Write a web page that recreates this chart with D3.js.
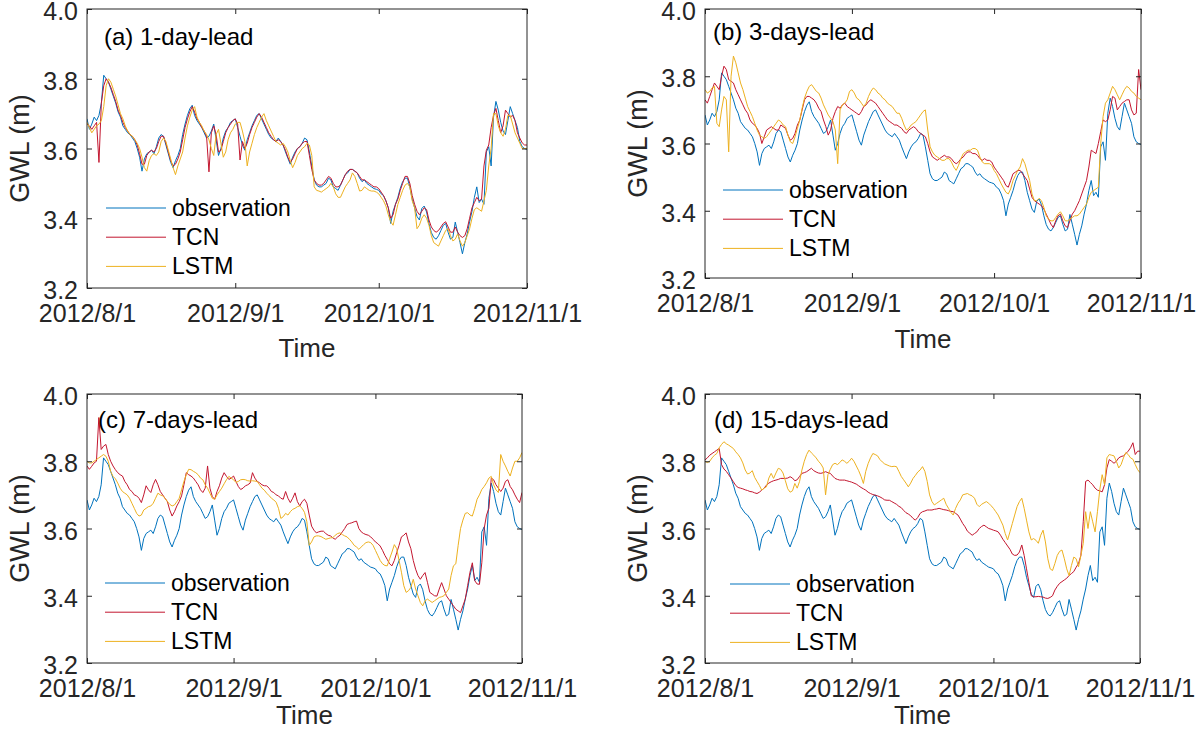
<!DOCTYPE html>
<html>
<head>
<meta charset="utf-8">
<script src="https://cdn.jsdelivr.net/npm/d3@7"></script>
<style>
  body { margin: 0; background: #fff; }
  svg { display: block; font-family: "Liberation Sans", Arial, Helvetica, sans-serif; }
</style>
</head>
<body>
<div id="chart"></div>
<script>
// time axis: half-day samples from 2012/8/1 to 2012/11/1
const startDate = new Date(2012, 7, 1);
const endDate = new Date(2012, 10, 1);
const stepHours = 12;
const monthTicks = [new Date(2012, 7, 1), new Date(2012, 8, 1), new Date(2012, 9, 1), new Date(2012, 10, 1)];
const gwlTicks = [3.2, 3.4, 3.6, 3.8, 4.0];
const seriesNames = ["observation", "TCN", "LSTM"];
const panelTitles = ["(a) 1-day-lead", "(b) 3-days-lead", "(c) 7-days-lead", "(d) 15-days-lead"];

// GWL (m)
const observation = [
  3.685,3.655,3.67,3.69,3.68,3.695,3.73,3.81,3.80,3.79,
  3.77,3.75,3.73,3.705,3.69,3.665,3.655,3.645,3.64,3.63,
  3.62,3.60,3.575,3.535,3.57,3.585,3.59,3.595,3.585,3.605,
  3.63,3.64,3.635,3.61,3.585,3.56,3.545,3.565,3.58,3.60,
  3.64,3.67,3.695,3.714,3.724,3.695,3.68,3.67,3.66,3.645,
  3.63,3.635,3.65,3.67,3.625,3.58,3.60,3.63,3.65,3.66,
  3.675,3.68,3.685,3.66,3.635,3.61,3.595,3.625,3.645,3.665,
  3.68,3.695,3.70,3.685,3.67,3.655,3.64,3.63,3.625,3.62,
  3.63,3.62,3.61,3.59,3.572,3.555,3.575,3.59,3.60,3.605,
  3.615,3.63,3.625,3.59,3.55,3.51,3.495,3.49,3.49,3.495,
  3.50,3.515,3.51,3.49,3.485,3.48,3.495,3.51,3.525,3.53,
  3.54,3.54,3.535,3.53,3.515,3.505,3.51,3.50,3.495,3.49,
  3.485,3.483,3.48,3.47,3.465,3.45,3.43,3.385,3.42,3.44,
  3.46,3.486,3.505,3.515,3.515,3.49,3.455,3.43,3.405,3.395,
  3.428,3.435,3.418,3.385,3.359,3.345,3.34,3.35,3.365,3.38,
  3.385,3.36,3.34,3.345,3.389,3.36,3.33,3.298,3.33,3.355,
  3.39,3.42,3.46,3.49,3.445,3.455,3.44,3.59,3.605,3.55,
  3.69,3.735,3.71,3.675,3.65,3.64,3.68,3.72,3.70,3.68,
  3.66,3.62,3.605,3.60,3.597
];

const tcn1 = [
  3.67,3.665,3.655,3.665,3.675,3.56,3.73,3.78,3.80,3.79,
  3.775,3.755,3.735,3.71,3.695,3.675,3.66,3.65,3.64,3.635,
  3.625,3.61,3.585,3.555,3.555,3.58,3.59,3.595,3.59,3.60,
  3.62,3.635,3.635,3.615,3.59,3.565,3.55,3.555,3.57,3.59,
  3.625,3.66,3.685,3.705,3.72,3.705,3.685,3.675,3.66,3.65,
  3.635,3.533,3.645,3.665,3.64,3.59,3.595,3.62,3.645,3.66,
  3.67,3.68,3.685,3.67,3.567,3.62,3.60,3.615,3.64,3.66,
  3.675,3.69,3.70,3.69,3.675,3.66,3.645,3.635,3.625,3.62,
  3.625,3.62,3.61,3.595,3.575,3.56,3.57,3.585,3.60,3.605,
  3.615,3.62,3.62,3.58,3.54,3.51,3.50,3.495,3.495,3.50,
  3.51,3.52,3.515,3.50,3.49,3.49,3.495,3.51,3.525,3.535,
  3.54,3.54,3.535,3.53,3.52,3.51,3.51,3.505,3.50,3.495,
  3.49,3.49,3.485,3.475,3.465,3.45,3.43,3.40,3.41,3.44,
  3.455,3.48,3.50,3.52,3.52,3.50,3.465,3.44,3.42,3.41,
  3.42,3.43,3.425,3.395,3.375,3.365,3.36,3.365,3.375,3.385,
  3.39,3.375,3.36,3.36,3.375,3.36,3.35,3.345,3.35,3.37,
  3.40,3.43,3.445,3.46,3.45,3.455,3.55,3.595,3.61,3.66,
  3.695,3.715,3.68,3.645,3.665,3.71,3.70,3.69,3.695,3.68,
  3.645,3.63,3.616,3.61,3.61
];

const lstm1 = [
  3.675,3.66,3.645,3.655,3.665,3.67,3.68,3.72,3.78,3.80,
  3.79,3.77,3.75,3.725,3.70,3.685,3.665,3.65,3.64,3.635,
  3.625,3.615,3.60,3.575,3.545,3.535,3.565,3.58,3.585,3.58,
  3.59,3.62,3.63,3.62,3.595,3.57,3.545,3.525,3.55,3.57,
  3.59,3.63,3.665,3.69,3.71,3.72,3.69,3.675,3.665,3.65,
  3.64,3.625,3.60,3.58,3.64,3.655,3.615,3.575,3.59,3.625,
  3.645,3.655,3.67,3.675,3.675,3.65,3.62,3.55,3.59,3.615,
  3.64,3.66,3.675,3.69,3.70,3.68,3.665,3.65,3.635,3.62,
  3.615,3.61,3.615,3.605,3.59,3.565,3.545,3.56,3.58,3.59,
  3.60,3.605,3.615,3.61,3.58,3.49,3.48,3.478,3.475,3.48,
  3.485,3.49,3.50,3.49,3.47,3.46,3.46,3.475,3.49,3.50,
  3.51,3.53,3.52,3.50,3.478,3.48,3.49,3.485,3.48,3.478,
  3.478,3.475,3.47,3.46,3.45,3.435,3.41,3.39,3.38,3.41,
  3.44,3.46,3.48,3.495,3.50,3.49,3.45,3.43,3.37,3.38,
  3.40,3.41,3.40,3.38,3.35,3.33,3.325,3.32,3.335,3.35,
  3.365,3.37,3.35,3.335,3.34,3.355,3.335,3.32,3.33,3.35,
  3.37,3.40,3.425,3.43,3.425,3.42,3.45,3.48,3.55,3.60,
  3.70,3.70,3.665,3.645,3.635,3.655,3.695,3.695,3.67,3.645,
  3.63,3.615,3.60,3.60,3.60
];

const tcn3 = [
  3.73,3.72,3.74,3.76,3.78,3.77,3.76,3.80,3.83,3.82,
  3.79,3.785,3.78,3.76,3.745,3.73,3.715,3.70,3.69,3.67,
  3.66,3.655,3.645,3.63,3.60,3.62,3.64,3.645,3.65,3.645,
  3.64,3.64,3.655,3.65,3.645,3.625,3.61,3.615,3.63,3.655,
  3.67,3.70,3.73,3.74,3.74,3.735,3.73,3.72,3.705,3.695,
  3.67,3.65,3.625,3.64,3.675,3.695,3.71,3.705,3.715,3.72,
  3.71,3.705,3.70,3.695,3.69,3.685,3.695,3.71,3.715,3.725,
  3.73,3.725,3.72,3.71,3.70,3.69,3.68,3.67,3.665,3.66,
  3.655,3.655,3.65,3.645,3.635,3.63,3.64,3.645,3.65,3.645,
  3.635,3.63,3.625,3.62,3.60,3.575,3.56,3.555,3.55,3.555,
  3.56,3.565,3.56,3.56,3.555,3.545,3.54,3.545,3.555,3.56,
  3.57,3.575,3.575,3.57,3.57,3.565,3.555,3.55,3.555,3.55,
  3.55,3.545,3.53,3.52,3.51,3.50,3.49,3.475,3.47,3.49,
  3.51,3.515,3.52,3.52,3.51,3.50,3.49,3.465,3.44,3.43,
  3.425,3.42,3.415,3.405,3.39,3.375,3.36,3.35,3.37,3.385,
  3.39,3.37,3.355,3.35,3.37,3.39,3.40,3.415,3.43,3.45,
  3.47,3.49,3.53,3.58,3.575,3.57,3.60,3.635,3.67,3.665,
  3.67,3.70,3.74,3.735,3.70,3.71,3.72,3.725,3.73,3.73,
  3.70,3.685,3.69,3.82,3.76
];

const lstm3 = [
  3.76,3.75,3.755,3.765,3.77,3.66,3.65,3.70,3.74,3.73,
  3.575,3.80,3.86,3.84,3.81,3.78,3.76,3.735,3.71,3.695,
  3.68,3.66,3.64,3.625,3.62,3.615,3.62,3.63,3.64,3.65,
  3.66,3.67,3.665,3.655,3.65,3.625,3.605,3.60,3.62,3.645,
  3.67,3.705,3.735,3.755,3.77,3.775,3.765,3.755,3.75,3.735,
  3.715,3.70,3.685,3.675,3.665,3.64,3.54,3.70,3.715,3.72,
  3.73,3.755,3.76,3.75,3.735,3.73,3.72,3.71,3.72,3.74,
  3.755,3.765,3.76,3.75,3.745,3.735,3.73,3.72,3.715,3.71,
  3.70,3.69,3.69,3.675,3.655,3.64,3.645,3.655,3.66,3.665,
  3.675,3.685,3.695,3.70,3.64,3.59,3.575,3.565,3.56,3.555,
  3.55,3.55,3.555,3.555,3.545,3.53,3.52,3.535,3.555,3.57,
  3.575,3.58,3.58,3.585,3.585,3.58,3.56,3.545,3.54,3.54,
  3.54,3.535,3.52,3.51,3.495,3.48,3.467,3.455,3.45,3.465,
  3.49,3.505,3.52,3.53,3.555,3.54,3.515,3.49,3.45,3.43,
  3.43,3.437,3.43,3.41,3.385,3.375,3.37,3.37,3.38,3.39,
  3.397,3.385,3.37,3.37,3.375,3.38,3.385,3.385,3.39,3.40,
  3.41,3.42,3.44,3.455,3.46,3.465,3.47,3.60,3.68,3.72,
  3.73,3.75,3.77,3.76,3.745,3.73,3.745,3.76,3.77,3.765,
  3.755,3.75,3.74,3.735,3.73
];

const tcn7 = [
  3.786,3.776,3.785,3.795,3.80,3.93,3.835,3.845,3.85,3.82,
  3.80,3.786,3.775,3.766,3.76,3.756,3.74,3.73,3.716,3.71,
  3.70,3.697,3.69,3.677,3.70,3.727,3.715,3.707,3.73,3.746,
  3.73,3.71,3.70,3.69,3.68,3.655,3.637,3.65,3.667,3.68,
  3.697,3.73,3.766,3.76,3.756,3.75,3.74,3.73,3.715,3.707,
  3.72,3.786,3.72,3.695,3.687,3.71,3.727,3.75,3.766,3.755,
  3.746,3.75,3.756,3.74,3.725,3.716,3.72,3.727,3.73,3.735,
  3.766,3.75,3.74,3.736,3.73,3.727,3.727,3.72,3.71,3.707,
  3.70,3.697,3.69,3.687,3.71,3.69,3.677,3.69,3.706,3.68,
  3.667,3.68,3.687,3.675,3.64,3.607,3.595,3.587,3.59,3.592,
  3.592,3.585,3.58,3.578,3.572,3.568,3.575,3.58,3.59,3.60,
  3.612,3.615,3.617,3.62,3.622,3.60,3.59,3.585,3.582,3.58,
  3.575,3.568,3.56,3.555,3.548,3.535,3.52,3.508,3.495,3.489,
  3.505,3.528,3.55,3.575,3.58,3.587,3.56,3.54,3.505,3.479,
  3.46,3.449,3.46,3.469,3.44,3.41,3.405,3.40,3.399,3.42,
  3.439,3.42,3.40,3.39,3.38,3.37,3.36,3.355,3.35,3.37,
  3.39,3.43,3.47,3.498,3.445,3.435,3.434,3.498,3.60,3.64,
  3.66,3.75,3.745,3.73,3.72,3.71,3.72,3.74,3.745,3.725,
  3.715,3.70,3.687,3.677,3.707
];

const lstm7 = [
  3.80,3.795,3.795,3.80,3.805,3.81,3.815,3.82,3.815,3.80,
  3.77,3.755,3.748,3.735,3.72,3.71,3.705,3.70,3.69,3.675,
  3.66,3.645,3.637,3.64,3.655,3.66,3.665,3.667,3.675,3.69,
  3.705,3.70,3.697,3.69,3.68,3.672,3.667,3.67,3.68,3.69,
  3.715,3.74,3.76,3.776,3.775,3.77,3.766,3.76,3.75,3.745,
  3.73,3.72,3.705,3.69,3.687,3.70,3.71,3.72,3.733,3.745,
  3.755,3.75,3.745,3.737,3.74,3.745,3.746,3.745,3.742,3.741,
  3.742,3.741,3.74,3.73,3.72,3.714,3.705,3.698,3.69,3.685,
  3.678,3.66,3.63,3.635,3.645,3.64,3.65,3.657,3.66,3.665,
  3.667,3.66,3.648,3.62,3.55,3.56,3.575,3.578,3.578,3.576,
  3.572,3.568,3.57,3.572,3.573,3.58,3.585,3.587,3.582,3.578,
  3.575,3.568,3.56,3.55,3.545,3.538,3.545,3.552,3.558,3.56,
  3.558,3.55,3.535,3.52,3.505,3.495,3.49,3.489,3.51,3.53,
  3.552,3.54,3.505,3.47,3.43,3.41,3.415,3.425,3.449,3.42,
  3.40,3.38,3.37,3.385,3.39,3.385,3.38,3.385,3.39,3.395,
  3.397,3.40,3.41,3.42,3.46,3.489,3.495,3.55,3.60,3.625,
  3.645,3.647,3.64,3.637,3.66,3.687,3.70,3.716,3.725,3.736,
  3.75,3.755,3.73,3.715,3.707,3.82,3.80,3.786,3.77,3.756,
  3.78,3.80,3.80,3.81,3.826
];

const tcn15 = [
  3.804,3.81,3.818,3.823,3.828,3.833,3.838,3.79,3.777,3.77,
  3.76,3.75,3.739,3.728,3.722,3.72,3.718,3.715,3.713,3.71,
  3.709,3.706,3.704,3.708,3.714,3.72,3.729,3.735,3.739,3.742,
  3.744,3.746,3.749,3.749,3.749,3.75,3.754,3.75,3.742,3.745,
  3.755,3.764,3.766,3.769,3.774,3.779,3.772,3.768,3.765,3.764,
  3.766,3.769,3.766,3.764,3.756,3.749,3.746,3.744,3.744,3.744,
  3.742,3.74,3.738,3.735,3.732,3.727,3.722,3.718,3.714,3.708,
  3.704,3.701,3.699,3.697,3.694,3.69,3.685,3.684,3.684,3.68,
  3.676,3.672,3.666,3.662,3.654,3.647,3.643,3.638,3.63,3.625,
  3.633,3.645,3.65,3.652,3.655,3.655,3.655,3.657,3.658,3.66,
  3.658,3.656,3.655,3.653,3.651,3.65,3.645,3.64,3.628,3.615,
  3.605,3.592,3.586,3.58,3.585,3.59,3.60,3.606,3.61,3.605,
  3.60,3.598,3.595,3.593,3.59,3.58,3.568,3.558,3.548,3.538,
  3.524,3.52,3.521,3.53,3.551,3.52,3.48,3.44,3.40,3.397,
  3.397,3.398,3.397,3.396,3.393,3.392,3.395,3.40,3.417,3.428,
  3.437,3.442,3.447,3.452,3.46,3.466,3.472,3.485,3.496,3.52,
  3.62,3.74,3.744,3.737,3.73,3.72,3.714,3.712,3.709,3.73,
  3.78,3.805,3.80,3.794,3.80,3.81,3.814,3.816,3.823,3.83,
  3.84,3.855,3.82,3.83,3.83
];

const lstm15 = [
  3.80,3.796,3.80,3.81,3.818,3.823,3.84,3.85,3.858,3.852,
  3.848,3.843,3.838,3.828,3.82,3.81,3.795,3.774,3.762,3.765,
  3.772,3.752,3.74,3.728,3.714,3.72,3.724,3.75,3.764,3.749,
  3.765,3.779,3.776,3.765,3.742,3.718,3.708,3.712,3.734,3.72,
  3.74,3.774,3.80,3.82,3.833,3.825,3.818,3.81,3.80,3.792,
  3.78,3.70,3.76,3.776,3.79,3.794,3.79,3.796,3.804,3.80,
  3.794,3.80,3.809,3.80,3.786,3.772,3.755,3.734,3.77,3.793,
  3.81,3.823,3.82,3.816,3.805,3.798,3.792,3.789,3.786,3.784,
  3.785,3.784,3.77,3.755,3.745,3.735,3.724,3.735,3.749,3.758,
  3.768,3.774,3.784,3.77,3.74,3.70,3.68,3.67,3.675,3.68,
  3.685,3.69,3.672,3.66,3.648,3.64,3.66,3.675,3.685,3.70,
  3.702,3.704,3.70,3.697,3.69,3.672,3.665,3.672,3.676,3.68,
  3.675,3.668,3.66,3.65,3.64,3.625,3.61,3.585,3.566,3.59,
  3.615,3.64,3.665,3.68,3.69,3.66,3.625,3.59,3.566,3.57,
  3.565,3.556,3.58,3.595,3.56,3.51,3.48,3.475,3.496,3.52,
  3.532,3.536,3.51,3.48,3.46,3.49,3.515,3.51,3.486,3.52,
  3.556,3.65,3.60,3.65,3.62,3.59,3.65,3.716,3.76,3.73,
  3.81,3.82,3.818,3.816,3.80,3.78,3.79,3.81,3.826,3.82,
  3.81,3.806,3.79,3.775,3.766
];

const predictions = [[tcn1, lstm1], [tcn3, lstm3], [tcn7, lstm7], [tcn15, lstm15]];

// ---- layout (pixels) ----
const colors = ["#0072BD", "#C3162F", "#EDB120"];
const panels = [
  { left: 87,  right: 527,  top: 9,   bottom: 288, timeY: 357, yLabX: 29,  titleX: 104, titleY: 45,  legX: 106, legY: 208 },
  { left: 705, right: 1141, top: 9,   bottom: 278, timeY: 348, yLabX: 647, titleX: 713, titleY: 40,  legX: 723, legY: 190 },
  { left: 87,  right: 522,  top: 394, bottom: 663, timeY: 724, yLabX: 29,  titleX: 98,  titleY: 428, legX: 105, legY: 583 },
  { left: 705, right: 1140, top: 394, bottom: 663, timeY: 724, yLabX: 647, titleX: 714, titleY: 428, legX: 730, legY: 584 }
];
const axisColor = "#262626";
const fmtDate = d3.timeFormat("%Y/%-m/%-d");

const svg = d3.select("#chart").append("svg")
    .attr("width", 1200)
    .attr("height", 736);

panels.forEach((p, k) => {

    const x = d3.scaleTime()
        .domain([startDate, endDate])
        .range([p.left, p.right]);
    const y = d3.scaleLinear()
        .domain([3.2, 4.0])
        .range([p.bottom, p.top]);

    const g = svg.append("g").attr("class", "panel");

    g.append("clipPath")
        .attr("id", `clip${k}`)
        .append("rect")
        .attr("x", p.left)
        .attr("y", p.top)
        .attr("width", p.right - p.left)
        .attr("height", p.bottom - p.top);

    const line = d3.line()
        .x((d, i) => x(d3.timeHour.offset(startDate, i * stepHours)))
        .y(d => y(d));

    const series = [observation, predictions[k][0], predictions[k][1]];

    g.append("g")
        .attr("clip-path", `url(#clip${k})`)
        .selectAll("path")
        .data(series)
        .enter()
        .append("path")
        .attr("d", line)
        .attr("fill", "none")
        .attr("stroke", (d, i) => colors[i])
        .attr("stroke-width", 1)
        .attr("stroke-linejoin", "round");

    // axes with inward ticks, box all round
    g.append("g")
        .attr("transform", `translate(0,${p.bottom})`)
        .call(d3.axisBottom(x).tickValues(monthTicks).tickFormat(fmtDate)
            .tickSizeInner(-5).tickSizeOuter(0).tickPadding(16));
    g.append("g")
        .attr("transform", `translate(0,${p.top})`)
        .call(d3.axisTop(x).tickValues(monthTicks).tickFormat("")
            .tickSizeInner(-5).tickSizeOuter(0));
    const leftAxis = g.append("g")
        .attr("transform", `translate(${p.left},0)`)
        .call(d3.axisLeft(y).tickValues(gwlTicks).tickFormat(d3.format(".1f"))
            .tickSizeInner(-5).tickSizeOuter(0).tickPadding(9));
    g.append("g")
        .attr("transform", `translate(${p.right},0)`)
        .call(d3.axisRight(y).tickValues(gwlTicks).tickFormat("")
            .tickSizeInner(-5).tickSizeOuter(0));

    g.selectAll(".domain").remove();
    g.selectAll(".tick line").attr("stroke", axisColor);
    g.selectAll(".tick text")
        .attr("fill", axisColor)
        .style("font-size", "25px")
        .style("font-family", "inherit");
    // matlab puts the gwl labels a touch below their ticks
    leftAxis.selectAll(".tick text").attr("dy", "0.42em");

    g.append("rect")
        .attr("x", p.left)
        .attr("y", p.top)
        .attr("width", p.right - p.left)
        .attr("height", p.bottom - p.top)
        .attr("fill", "none")
        .attr("stroke", axisColor)
        .attr("stroke-width", 1);

    // axis labels
    g.append("text")
        .attr("x", (p.left + p.right) / 2)
        .attr("y", p.timeY)
        .attr("text-anchor", "middle")
        .attr("fill", axisColor)
        .style("font-size", "26px")
        .text("Time");

    g.append("text")
        .attr("transform", `translate(${p.yLabX},${(p.top + p.bottom) / 2}) rotate(-90)`)
        .attr("text-anchor", "middle")
        .attr("fill", axisColor)
        .style("font-size", "27px")
        .text("GWL (m)");

    g.append("text")
        .attr("x", p.titleX)
        .attr("y", p.titleY)
        .attr("fill", "#000")
        .style("font-size", "24px")
        .text(panelTitles[k]);

    // legend, no box
    const legend = g.append("g")
        .attr("transform", `translate(${p.legX},${p.legY})`);
    const rows = legend.selectAll("g")
        .data(seriesNames)
        .enter()
        .append("g")
        .attr("transform", (d, i) => `translate(0,${i * 29.2})`);
    rows.append("line")
        .attr("x1", 0)
        .attr("x2", 60)
        .attr("stroke", (d, i) => colors[i])
        .attr("stroke-width", 1);
    rows.append("text")
        .attr("x", 66)
        .attr("y", 8)
        .attr("fill", "#000")
        .style("font-size", "23px")
        .text(d => d);
});
</script>
</body>
</html>
